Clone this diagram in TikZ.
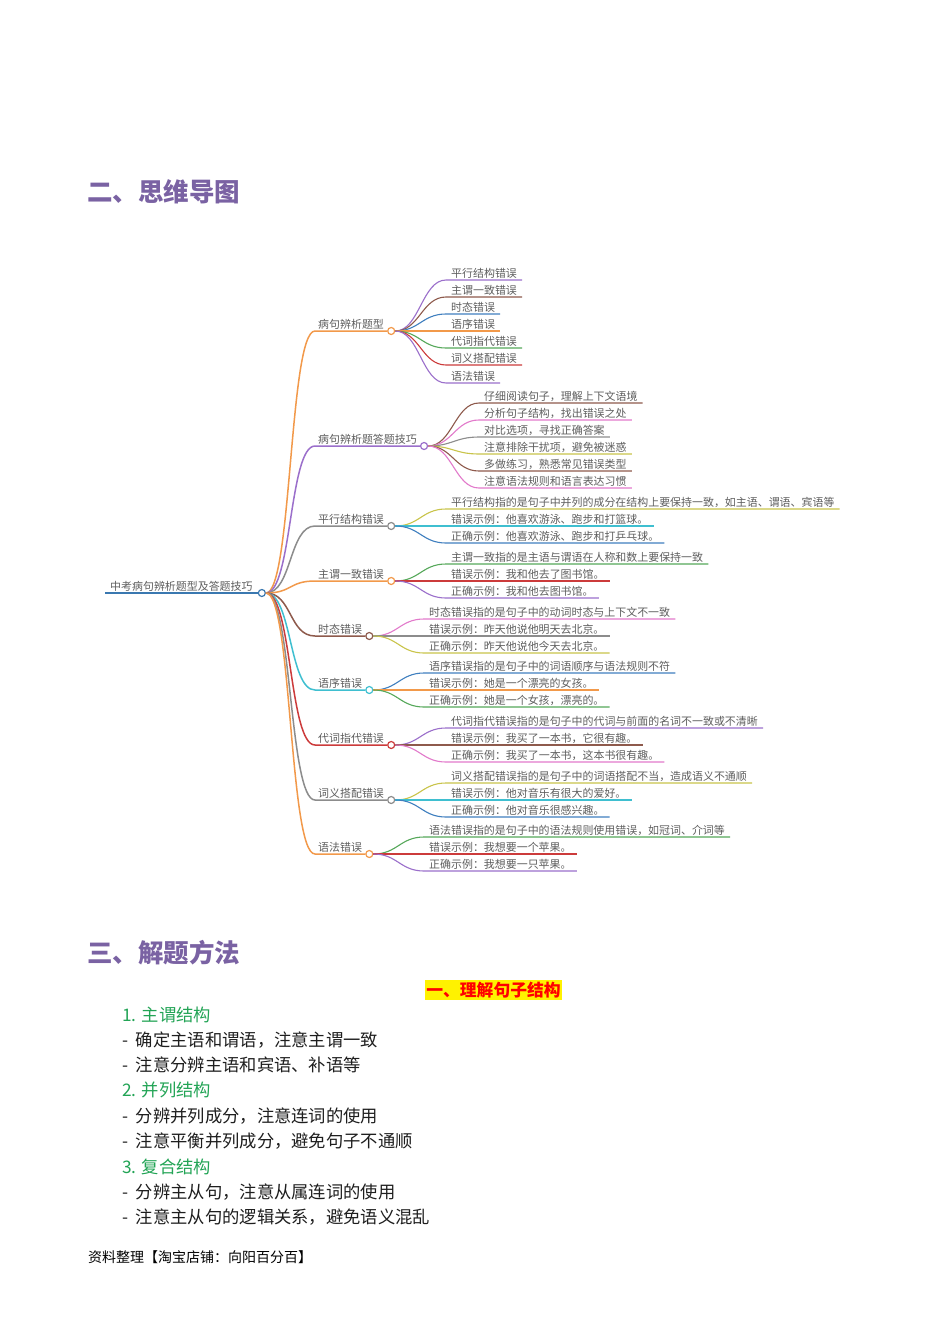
\documentclass[tikz,border=0pt]{standalone}
\usepackage{fontspec}
\setmainfont{Noto Sans CJK SC}
\definecolor{mmorange}{HTML}{F2994A}
\definecolor{mmpurple}{HTML}{9B6FCB}
\definecolor{mmgray}{HTML}{8C8C8C}
\definecolor{mmbrown}{HTML}{8E5A4C}
\definecolor{mmcyan}{HTML}{3FBFD0}
\definecolor{mmred}{HTML}{CC3B3B}
\definecolor{mmblue}{HTML}{3F7FBF}
\definecolor{mmgreen}{HTML}{56A85A}
\definecolor{mmpink}{HTML}{E27ACB}
\definecolor{mmolive}{HTML}{C9C44A}
\definecolor{mmroot}{HTML}{3A78B0}
\definecolor{mmtext}{HTML}{5E5E5E}
\definecolor{headpurple}{HTML}{7A62A3}
\definecolor{listgreen}{HTML}{22A455}
\definecolor{listtext}{HTML}{1E1E1E}
\newcommand\mmbranch[4]{%
  \node[lone, anchor=south west] (r#1) at (315,#2) {#4};
  \node[dot, draw=#3, anchor=west] (c#1) at (r#1.south east) {};
  \draw[conn1, #3] (rc.east) .. controls +(26,0) and +(-26,0) .. (r#1.south west) -- (c#1.west);
}
\newcommand\mmleaf[6]{%
  \node[ltwo, anchor=south west] (#2) at (#3,#4) {#6};
  \draw[conn2, #5] (#1.east) .. controls +(24,0) and +(-24,0) .. (#2.south west) -- (#2.south east);
}
\newcommand\dashitem{-\hspace{0.45em}}
\begin{document}
\begin{tikzpicture}[x=1pt,y=-1pt,
  lone/.style={text=mmtext, font=\fontsize{10.95}{13}\selectfont, inner xsep=3pt, inner ysep=1pt, text height=8pt, text depth=1pt},
  ltwo/.style={text=mmtext, font=\fontsize{10.95}{13}\selectfont, inner xsep=5pt, inner ysep=1pt, text height=8pt, text depth=1pt},
  dot/.style={circle, fill=white, minimum size=7pt, inner sep=0pt, line width=1.2pt},
  conn1/.style={line width=1.5pt},
  conn2/.style={line width=1.1pt},
  head/.style={text=headpurple, font=\fontsize{25.5}{30}\selectfont\bfseries, inner sep=0pt},
  listhead/.style={text=listgreen, font=\fontsize{17.3}{20}\selectfont, inner sep=0pt, anchor=west},
  listitem/.style={text=listtext, font=\fontsize{17.3}{20}\selectfont, inner sep=0pt, anchor=west}
]
\path[use as bounding box, fill=white] (0,0) rectangle (950,1344);

% headings
\node[head, anchor=west] (h2) at (87,192) {二、思维导图};
\node[head, anchor=west] (h3) at (87,953) {三、解题方法};

% root
\node[ltwo, anchor=south west] (root) at (105,593) {中考病句辨析题型及答题技巧};
\node[dot, draw=mmroot, anchor=west] (rc) at (root.south east) {};
\draw[mmroot, line width=2.6pt] (root.south west) -- (rc.west);

% level 1
\mmbranch{1}{331}{mmorange}{病句辨析题型}
\mmbranch{2}{446}{mmpurple}{病句辨析题答题技巧}
\mmbranch{3}{526}{mmgray}{平行结构错误}
\mmbranch{4}{581}{mmorange}{主谓一致错误}
\mmbranch{5}{636}{mmbrown}{时态错误}
\mmbranch{6}{690}{mmcyan}{语序错误}
\mmbranch{7}{745}{mmred}{代词指代错误}
\mmbranch{8}{800}{mmgray}{词义搭配错误}
\mmbranch{9}{854}{mmorange}{语法错误}

% group 1
\mmleaf{c1}{a1}{446}{280}{mmpurple}{平行结构错误}
\mmleaf{c1}{a2}{446}{297}{mmbrown}{主谓一致错误}
\mmleaf{c1}{a3}{446}{314}{mmblue}{时态错误}
\mmleaf{c1}{a4}{446}{331}{mmorange}{语序错误}
\mmleaf{c1}{a5}{446}{348}{mmgreen}{代词指代错误}
\mmleaf{c1}{a6}{446}{365}{mmred}{词义搭配错误}
\mmleaf{c1}{a7}{446}{383}{mmpurple}{语法错误}

% group 2
\mmleaf{c2}{b1}{479}{403}{mmbrown}{仔细阅读句子，理解上下文语境}
\mmleaf{c2}{b2}{479}{420}{mmpink}{分析句子结构，找出错误之处}
\mmleaf{c2}{b3}{479}{437}{mmgray}{对比选项，寻找正确答案}
\mmleaf{c2}{b4}{479}{454}{mmolive}{注意排除干扰项，避免被迷惑}
\mmleaf{c2}{b5}{479}{471}{mmbrown}{多做练习，熟悉常见错误类型}
\mmleaf{c2}{b6}{479}{488}{mmpink}{注意语法规则和语言表达习惯}

% group 3
\mmleaf{c3}{d1}{446}{509}{mmolive}{平行结构指的是句子中并列的成分在结构上要保持一致，如主语、谓语、宾语等}
\mmleaf{c3}{d2}{446}{526}{mmcyan}{错误示例：他喜欢游泳、跑步和打篮球。}
\mmleaf{c3}{d3}{446}{543}{mmblue}{正确示例：他喜欢游泳、跑步和打乒乓球。}

% group 4
\mmleaf{c4}{e1}{446}{564}{mmgreen}{主谓一致指的是主语与谓语在人称和数上要保持一致}
\mmleaf{c4}{e2}{446}{581}{mmred}{错误示例：我和他去了图书馆。}
\mmleaf{c4}{e3}{446}{598}{mmpurple}{正确示例：我和他去图书馆。}

% group 5
\mmleaf{c5}{f1}{424}{619}{mmpink}{时态错误指的是句子中的动词时态与上下文不一致}
\mmleaf{c5}{f2}{424}{636}{mmgray}{错误示例：昨天他说他明天去北京。}
\mmleaf{c5}{f3}{424}{653}{mmolive}{正确示例：昨天他说他今天去北京。}

% group 6
\mmleaf{c6}{g1}{424}{673}{mmblue}{语序错误指的是句子中的词语顺序与语法规则不符}
\mmleaf{c6}{g2}{424}{690}{mmorange}{错误示例：她是一个漂亮的女孩。}
\mmleaf{c6}{g3}{424}{707}{mmgreen}{正确示例：她是一个女孩，漂亮的。}

% group 7
\mmleaf{c7}{k1}{446}{728}{mmpurple}{代词指代错误指的是句子中的代词与前面的名词不一致或不清晰}
\mmleaf{c7}{k2}{446}{745}{mmbrown}{错误示例：我买了一本书，它很有趣。}
\mmleaf{c7}{k3}{446}{762}{mmpink}{正确示例：我买了一本书，这本书很有趣。}

% group 8
\mmleaf{c8}{m1}{446}{783}{mmolive}{词义搭配错误指的是句子中的词语搭配不当，造成语义不通顺}
\mmleaf{c8}{m2}{446}{800}{mmcyan}{错误示例：他对音乐有很大的爱好。}
\mmleaf{c8}{m3}{446}{817}{mmblue}{正确示例：他对音乐很感兴趣。}

% group 9
\mmleaf{c9}{n1}{424}{837}{mmgreen}{语法错误指的是句子中的语法规则使用错误，如冠词、介词等}
\mmleaf{c9}{n2}{424}{854}{mmred}{错误示例：我想要一个苹果。}
\mmleaf{c9}{n3}{424}{871}{mmpurple}{正确示例：我想要一只苹果。}

% section 3
\node[fill=yellow, text=red, font=\fontsize{16.8}{20}\selectfont\bfseries, inner xsep=1pt, inner ysep=0pt, minimum height=20pt] (hl) at (493.5,990) {一、理解句子结构};
\node[listhead] (p1) at (122,1015) {1. 主谓结构};
\node[listitem] (p2) at (122,1040) {\dashitem 确定主语和谓语，注意主谓一致};
\node[listitem] (p3) at (122,1065) {\dashitem 注意分辨主语和宾语、补语等};
\node[listhead] (p4) at (122,1090) {2. 并列结构};
\node[listitem] (p5) at (122,1116) {\dashitem 分辨并列成分，注意连词的使用};
\node[listitem] (p6) at (122,1141) {\dashitem 注意平衡并列成分，避免句子不通顺};
\node[listhead] (p7) at (122,1167) {3. 复合结构};
\node[listitem] (p8) at (122,1192) {\dashitem 分辨主从句，注意从属连词的使用};
\node[listitem] (p9) at (122,1217) {\dashitem 注意主从句的逻辑关系，避免语义混乱};

% footer
\node[anchor=west, inner sep=0pt, font=\fontsize{14}{17}\selectfont, text=black] (ft) at (88,1257) {资料整理【淘宝店铺：向阳百分百】};
\end{tikzpicture}
\end{document}
